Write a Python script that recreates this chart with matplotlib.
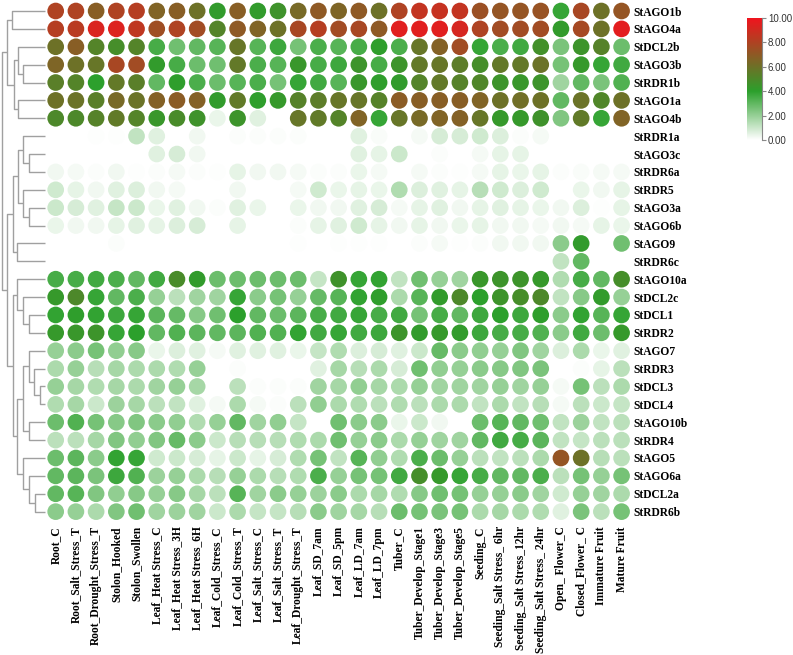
import matplotlib
matplotlib.use("Agg")
import matplotlib.pyplot as plt
import numpy as np
from matplotlib.colors import LinearSegmentedColormap

genes = ["StAGO1b", "StAGO4a", "StDCL2b", "StAGO3b", "StRDR1b", "StAGO1a", "StAGO4b",
         "StRDR1a", "StAGO3c", "StRDR6a", "StRDR5", "StAGO3a", "StAGO6b", "StAGO9",
         "StRDR6c", "StAGO10a", "StDCL2c", "StDCL1", "StRDR2", "StAGO7", "StRDR3",
         "StDCL3", "StDCL4", "StAGO10b", "StRDR4", "StAGO5", "StAGO6a", "StDCL2a", "StRDR6b"]

tissues = ["Root_C", "Root_Salt_Stress_T", "Root_Drought_Stress_T", "Stolon_Hooked",
           "Stolon_Swollen", "Leaf_Heat Stress_C", "Leaf_Heat Stress_3H", "Leaf_Heat Stress_6H",
           "Leaf_Cold_Stress_C", "Leaf_Cold_Stress_T", "Leaf_Salt_Stress_C", "Leaf_Salt_Stress_T",
           "Leaf_Drought_Stress_T", "Leaf_SD_7am", "Leaf_SD_5pm", "Leaf_LD_7am", "Leaf_LD_7pm",
           "Tuber_C", "Tuber_Develop_Stage1", "Tuber_Develop_Stage3", "Tuber_Develop_Stage5",
           "Seeding_C", "Seeding_Salt Stress_ 6hr", "Seeding_Salt Stress_12hr",
           "Seeding_Salt Stress_ 24hr", "Open_ Flower_C", "Closed_Flower_ C",
           "Immature Fruit", "Mature Fruit"]

expression = [
    [8.0, 8.0, 6.8, 8.0, 8.2, 6.6, 6.8, 6.0, 4.2, 6.8, 4.2, 4.6, 6.3, 7.0, 6.5, 7.0, 6.0, 8.0, 8.6, 8.7, 8.6, 7.4, 7.2, 7.2, 7.3, 3.8, 7.8, 6.0, 7.2],
    [8.2, 8.3, 9.3, 9.4, 8.5, 7.5, 8.0, 7.6, 5.2, 7.0, 6.6, 6.0, 7.8, 8.2, 7.6, 7.8, 7.0, 9.5, 9.5, 9.5, 9.2, 8.0, 7.6, 7.6, 7.6, 4.2, 7.7, 6.0, 9.6],
    [6.0, 6.8, 5.2, 4.8, 5.2, 3.5, 2.7, 3.0, 3.2, 5.8, 3.2, 3.7, 2.6, 3.4, 3.2, 3.5, 4.1, 3.4, 5.8, 6.7, 7.6, 3.8, 3.4, 3.6, 4.7, 2.5, 4.5, 5.3, 2.8],
    [6.5, 6.0, 5.8, 7.8, 7.6, 4.2, 3.5, 2.8, 2.7, 5.7, 3.4, 3.2, 4.4, 3.5, 3.7, 4.5, 3.5, 4.5, 5.7, 5.8, 5.5, 4.8, 5.7, 5.7, 5.9, 2.6, 4.3, 3.8, 3.6],
    [5.4, 5.2, 4.0, 5.7, 5.4, 3.0, 4.1, 3.4, 2.8, 3.2, 3.4, 2.6, 3.8, 3.6, 3.2, 4.4, 4.1, 4.2, 5.2, 5.7, 5.3, 5.1, 4.5, 4.4, 4.5, 1.8, 3.0, 2.5, 3.3],
    [6.0, 5.9, 5.4, 6.3, 5.9, 6.7, 6.9, 6.7, 4.2, 5.6, 4.1, 4.3, 5.3, 5.5, 5.8, 5.8, 5.3, 6.9, 6.8, 6.8, 6.8, 6.6, 6.0, 6.1, 6.0, 3.0, 5.9, 5.1, 6.0],
    [5.0, 5.0, 5.3, 5.6, 5.2, 4.4, 4.9, 4.6, 0.4, 4.5, 0.6, 0.0, 5.8, 5.6, 5.2, 6.6, 3.8, 5.8, 6.3, 6.6, 6.7, 5.8, 4.3, 4.3, 4.6, 2.4, 5.6, 3.8, 6.6],
    [0.0, 0.0, 0.05, 0.05, 1.2, 0.6, 0.0, 0.3, 0.0, 0.1, 0.1, 0.1, 0.1, 0.0, 0.0, 0.6, 0.15, 0.0, 0.2, 0.8, 0.8, 0.9, 0.7, 0.1, 0.2, 0.0, 0.0, 0.0, 0.0],
    [0.0, 0.0, 0.0, 0.0, 0.0, 0.6, 0.8, 0.3, 0.0, 0.0, 0.0, 0.0, 0.0, 0.0, 0.0, 0.6, 0.5, 1.0, 0.0, 0.1, 0.0, 0.2, 0.5, 0.5, 0.0, 0.0, 0.0, 0.0, 0.0],
    [0.3, 0.2, 0.1, 0.3, 0.05, 0.1, 0.2, 0.1, 0.05, 0.5, 0.3, 0.3, 0.2, 0.1, 0.1, 0.4, 0.2, 0.0, 0.2, 0.1, 0.05, 0.2, 0.5, 0.4, 0.5, 0.1, 0.15, 0.2, 0.2],
    [0.9, 0.5, 0.3, 0.6, 0.7, 0.3, 0.2, 0.0, 0.0, 0.3, 0.0, 0.0, 0.2, 0.9, 0.4, 0.5, 0.4, 1.5, 0.7, 0.6, 0.5, 1.4, 0.9, 0.7, 0.9, 0.0, 0.4, 0.3, 0.5],
    [1.0, 0.8, 0.6, 1.1, 1.0, 0.4, 0.6, 0.3, 0.1, 0.6, 0.4, 0.0, 0.4, 0.3, 0.3, 0.6, 0.8, 0.2, 0.5, 0.6, 0.3, 0.5, 0.6, 0.5, 0.4, 0.3, 0.7, 0.05, 0.5],
    [0.4, 0.3, 0.3, 0.5, 0.6, 0.5, 0.7, 0.8, 0.0, 0.5, 0.0, 0.0, 0.1, 0.5, 0.6, 0.9, 0.5, 0.3, 0.5, 0.3, 0.4, 0.5, 0.3, 0.3, 0.2, 0.3, 0.2, 0.5, 0.4],
    [0.0, 0.0, 0.0, 0.1, 0.0, 0.0, 0.0, 0.0, 0.0, 0.0, 0.0, 0.0, 0.05, 0.0, 0.05, 0.05, 0.05, 0.0, 0.1, 0.2, 0.05, 0.1, 0.3, 0.3, 0.3, 2.2, 4.2, 0.0, 2.7],
    [0.0, 0.0, 0.0, 0.0, 0.0, 0.0, 0.0, 0.0, 0.0, 0.0, 0.0, 0.0, 0.0, 0.0, 0.0, 0.0, 0.0, 0.0, 0.0, 0.0, 0.0, 0.0, 0.0, 0.0, 0.0, 1.2, 3.0, 0.0, 0.0],
    [3.5, 3.5, 3.6, 3.4, 3.0, 3.6, 4.9, 4.2, 2.8, 2.8, 2.8, 2.8, 2.8, 1.1, 4.6, 3.8, 3.9, 1.2, 2.7, 2.0, 1.8, 4.4, 4.5, 4.5, 4.3, 1.5, 3.5, 3.0, 4.8],
    [4.3, 5.0, 3.8, 3.0, 3.4, 2.0, 1.3, 1.8, 1.8, 3.8, 2.2, 2.6, 2.0, 2.9, 3.2, 3.9, 4.1, 1.6, 3.2, 4.2, 5.0, 4.0, 4.5, 4.8, 5.0, 1.2, 2.3, 4.2, 2.0],
    [3.9, 4.1, 3.9, 3.7, 3.8, 3.1, 2.9, 2.3, 2.7, 4.0, 3.0, 2.8, 3.1, 3.5, 3.6, 3.8, 3.5, 3.6, 2.6, 3.5, 3.0, 3.7, 4.0, 3.7, 4.1, 2.2, 3.9, 3.2, 3.8],
    [4.3, 4.4, 4.5, 3.8, 4.0, 3.0, 3.3, 3.1, 3.0, 3.1, 3.3, 3.3, 3.9, 3.6, 3.8, 3.6, 3.7, 4.5, 4.2, 4.3, 4.2, 3.7, 3.5, 3.5, 3.3, 2.2, 3.6, 2.8, 4.3],
    [2.0, 2.2, 2.6, 2.1, 2.3, 0.4, 0.7, 0.6, 0.2, 0.6, 0.6, 0.6, 0.4, 1.1, 1.5, 0.7, 0.8, 0.6, 1.0, 2.9, 2.2, 2.1, 2.0, 2.4, 1.8, 0.7, 1.6, 0.4, 0.6],
    [1.6, 2.0, 1.4, 1.7, 1.6, 1.6, 1.5, 2.0, 0.0, 0.1, 0.0, 0.0, 0.0, 0.6, 1.7, 1.4, 1.6, 0.8, 2.7, 2.1, 2.0, 2.2, 2.3, 2.4, 2.5, 0.0, 0.1, 0.5, 1.3],
    [2.0, 1.7, 1.5, 1.7, 1.6, 1.8, 2.0, 1.7, 0.0, 1.3, 0.1, 0.1, 0.1, 1.8, 1.7, 2.1, 1.7, 1.6, 2.0, 1.8, 1.8, 1.8, 2.0, 1.8, 2.0, 0.2, 2.6, 1.3, 1.6],
    [1.5, 1.7, 1.0, 1.9, 1.7, 1.3, 1.2, 0.6, 0.2, 1.6, 0.2, 0.1, 1.3, 2.1, 1.6, 1.5, 1.3, 1.5, 1.3, 1.6, 1.6, 1.2, 1.6, 1.2, 1.4, 0.2, 1.3, 1.0, 1.1],
    [2.8, 3.3, 2.6, 2.3, 2.4, 2.2, 2.1, 1.5, 2.0, 3.0, 1.8, 2.1, 1.1, 0.0, 2.7, 2.2, 2.2, 0.4, 1.0, 0.3, 0.0, 2.8, 3.2, 3.0, 2.7, 1.2, 1.9, 1.2, 1.3],
    [1.3, 1.3, 1.7, 2.4, 2.1, 2.4, 2.9, 2.2, 1.0, 1.4, 1.4, 1.4, 1.5, 1.6, 2.7, 2.0, 2.2, 1.6, 2.0, 1.8, 1.8, 3.0, 3.6, 3.5, 3.1, 1.2, 1.1, 1.3, 1.3],
    [2.8, 3.1, 2.2, 3.9, 3.8, 0.9, 1.0, 0.8, 0.5, 1.0, 0.5, 0.8, 1.5, 2.6, 1.2, 3.2, 2.1, 1.5, 3.4, 2.8, 2.0, 1.3, 1.2, 1.3, 1.6, 7.2, 6.0, 1.4, 1.3],
    [3.0, 3.1, 2.5, 3.7, 3.3, 1.9, 2.0, 1.6, 1.4, 2.0, 1.6, 1.4, 1.5, 3.4, 2.0, 2.6, 2.6, 3.6, 4.8, 4.3, 3.8, 3.5, 3.0, 3.0, 3.4, 1.3, 2.6, 2.0, 2.6],
    [3.0, 3.2, 2.4, 2.1, 2.3, 2.0, 2.3, 1.7, 1.3, 3.2, 1.8, 2.2, 2.0, 1.9, 2.2, 1.6, 1.7, 1.5, 2.3, 2.7, 2.6, 2.0, 2.0, 2.2, 1.8, 0.9, 2.0, 1.8, 1.6],
    [2.2, 2.0, 1.6, 2.4, 2.7, 1.8, 1.9, 1.8, 1.0, 1.6, 1.1, 1.1, 1.4, 2.2, 1.8, 1.7, 1.4, 2.8, 2.6, 2.5, 2.6, 1.6, 1.7, 1.6, 1.5, 0.6, 2.5, 1.3, 2.6],
]

# row dendrogram: (left, right, merge height); ints are row indices
row_tree = (
    ((0, 1, 33.0),
     ((2, (3, 4, 22.0), 27.0), (5, 6, 27.0), 31.5), 38.3),
    ((((7, (8, 9, 15.7), 21.7), (10, (11, 12, 15.7), 21.7), 26.7), (13, 14, 27.7), 31.7),
     ((15, (16, (17, 18, 15.7), 21.7), 27.7),
      (((19, (20, (21, 22, 5.0), 10.7), 15.7), (23, 24, 15.7), 21.7),
       (25, (26, (27, 28, 10.0), 15.7), 21.7), 27.7), 32.3), 38.3),
    43.0)

cbar_ticks = [0, 2, 4, 6, 8, 10]

cmap = LinearSegmentedColormap.from_list(
    "wgr", [(0.0, "#ffffff"), (0.4, "#2ca02c"), (1.0, "#f0141e")])

W, H = 793, 655
fig = plt.figure(figsize=(W / 100, H / 100), dpi=100)

col_x0, col_dx = 55.7, 20.21
row_y0, row_dy = 11.0, 17.88
n_r, n_c = len(genes), len(tissues)
ax_left = col_x0 - col_dx / 2
ax_top = row_y0 - row_dy / 2
ax_w = n_c * col_dx
ax_h = n_r * row_dy
ax = fig.add_axes([ax_left / W, 1 - (ax_top + ax_h) / H, ax_w / W, ax_h / H])

vals = np.array(expression)
yy, xx = np.mgrid[0:n_r, 0:n_c]
ax.scatter(xx.ravel(), yy.ravel(), c=vals.ravel(), cmap=cmap, vmin=0, vmax=10,
           s=144, linewidths=0, marker="o")
ax.set_xlim(-0.5, n_c - 0.5)
ax.set_ylim(n_r - 0.5, -0.5)
for s in ax.spines.values():
    s.set_visible(False)
ax.set_xticks(range(n_c))
ax.set_xticklabels(tissues, rotation=90, fontfamily="Liberation Serif",
                   fontweight="bold", fontsize=8.3)
ax.tick_params(axis="x", length=0, pad=4)
ax.set_yticks(range(n_r))
ax.set_yticklabels(genes, fontfamily="Liberation Serif", fontweight="bold", fontsize=8.3)
ax.yaxis.tick_right()
ax.tick_params(axis="y", length=0, pad=1)

# dendrogram
dax = fig.add_axes([0, 1 - (ax_top + ax_h) / H, 46 / W, ax_h / H])
dax.set_xlim(45, -1)
dax.set_ylim(n_r - 0.5, -0.5)
dax.axis("off")


def draw(node):
    if isinstance(node, int):
        return node, 0.0
    l, r, h = node
    yl, hl = draw(l)
    yr, hr = draw(r)
    dax.plot([hl, h, h, hr], [yl, yl, yr, yr], color="#a0a0a0", lw=1.0,
             solid_capstyle="butt")
    return (yl + yr) / 2, h


draw(row_tree)

# colorbar
cax = fig.add_axes([746.7 / W, 1 - 140 / H, 15.6 / W, 122 / H])
grad = np.linspace(0, 10, 256).reshape(-1, 1)
cax.imshow(grad, aspect="auto", cmap=cmap, vmin=0, vmax=10, origin="lower",
           extent=[0, 1, 0, 10])
cax.set_xticks([])
cax.yaxis.tick_right()
cax.set_yticks(cbar_ticks)
cax.set_yticklabels([f"{t:.2f}" for t in cbar_ticks], fontfamily="Liberation Sans",
                    fontsize=7, color="#333333")
cax.tick_params(axis="y", length=3, width=0.8, color="#888888", pad=1)
for k in ["left", "top", "bottom"]:
    cax.spines[k].set_visible(False)
cax.spines["right"].set_color("#888888")
cax.spines["right"].set_linewidth(0.8)

fig.savefig("out.png", dpi=100)
